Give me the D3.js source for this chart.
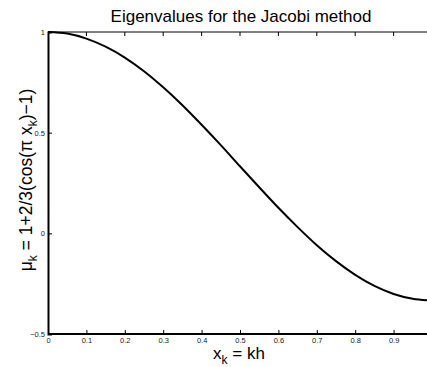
<!DOCTYPE html>
<html>
<head>
<meta charset="utf-8">
<script src="https://cdn.jsdelivr.net/npm/d3@7"></script>
<style>
  html, body { margin: 0; padding: 0; background: #fff; }
  svg { display: block; font-family: 'Liberation Sans', Arial, Helvetica, sans-serif; }
</style>
</head>
<body>
<div id="chart"></div>
<script>
// values
const X_VALUES  = [0, 0.05, 0.1, 0.15, 0.2, 0.25, 0.3, 0.35, 0.4, 0.45, 0.5,
                   0.55, 0.6, 0.65, 0.7, 0.75, 0.8, 0.85, 0.9, 0.95, 0.99]
const MU_VALUES = [1, 0.992, 0.967, 0.927, 0.873, 0.805, 0.725, 0.636, 0.539, 0.438, 0.333,
                   0.229, 0.127, 0.031, -0.059, -0.138, -0.206, -0.261, -0.301, -0.325, -0.333]
const X_TICKS = [0, 0.1, 0.2, 0.3, 0.4, 0.5, 0.6, 0.7, 0.8, 0.9]
const Y_TICKS = [-0.5, 0, 0.5, 1]

const W = 427, H = 367
const M = { top: 32, right: -5, bottom: 33, left: 48 }

const svg = d3.select('#chart').append('svg')
  .attr('width', W).attr('height', H)

const x = d3.scaleLinear().domain([0, 1]).range([M.left, W - M.right])
const y = d3.scaleLinear().domain([-0.5, 1]).range([H - M.bottom, M.top])

const fmt = v => v < 0 ? '\u2212' + Math.abs(v) : String(v)

// top frame line with inward ticks
svg.append('line')
  .attr('x1', x(0)).attr('x2', W).attr('y1', y(1)).attr('y2', y(1))
  .attr('stroke', '#000').attr('stroke-width', 1)
svg.append('g').selectAll('line').data(X_TICKS.slice(1)).join('line')
  .attr('x1', d => x(d)).attr('x2', d => x(d))
  .attr('y1', y(1)).attr('y2', y(1) + 4)
  .attr('stroke', '#000').attr('stroke-width', 1)

// bottom axis
const xAxis = d3.axisBottom(x).tickValues(X_TICKS).tickFormat(fmt).tickSize(-4).tickPadding(4)
svg.append('g')
  .attr('transform', `translate(0,${y(-0.5)})`)
  .call(xAxis)
  .call(g => g.select('.domain').attr('stroke-width', 2).attr('d', `M${x(0)},0H${W}`))
  .call(g => g.selectAll('.tick line').attr('stroke', '#000'))
  .call(g => g.selectAll('text').attr('font-size', 7.5).attr('fill', '#222')
    .attr('font-family', 'Liberation Sans, Arial, sans-serif'))

// left axis
const yAxis = d3.axisLeft(y).tickValues(Y_TICKS).tickFormat(fmt).tickSize(-4).tickPadding(3)
svg.append('g')
  .attr('transform', `translate(${x(0)},0)`)
  .call(yAxis)
  .call(g => g.select('.domain').attr('stroke-width', 2))
  .call(g => g.selectAll('.tick line').attr('stroke', '#000'))
  .call(g => g.selectAll('text').attr('font-size', 7.5).attr('fill', '#222')
    .attr('font-family', 'Liberation Sans, Arial, sans-serif'))

// curve
const line = d3.line()
  .x((d, i) => x(X_VALUES[i]))
  .y(d => y(d))
  .curve(d3.curveMonotoneX)
svg.append('path')
  .datum(MU_VALUES)
  .attr('fill', 'none')
  .attr('stroke', '#000')
  .attr('stroke-width', 2)
  .attr('d', line)

// title
svg.append('text')
  .attr('x', 241).attr('y', 22)
  .attr('text-anchor', 'middle')
  .attr('font-size', 17)
  .text('Eigenvalues for the Jacobi method')

// x label
const xl = svg.append('text')
  .attr('x', 239).attr('y', 359)
  .attr('text-anchor', 'middle')
  .attr('font-size', 17)
xl.append('tspan').text('x')
xl.append('tspan').attr('font-size', 12).attr('dy', 5).text('k')
xl.append('tspan').attr('dy', -5).text(' = kh')

// y label
const yl = svg.append('text')
  .attr('transform', 'translate(32,180) rotate(-90)')
  .attr('text-anchor', 'middle')
  .attr('font-size', 17.5)
yl.append('tspan').text('\u03bc')
yl.append('tspan').attr('font-size', 12).attr('dy', 5).text('k')
yl.append('tspan').attr('dy', -5).text(' = 1+2/3(cos(\u03c0 x')
yl.append('tspan').attr('font-size', 12).attr('dy', 5).text('k')
yl.append('tspan').attr('dy', -5).text(')\u22121)')
</script>
</body>
</html>
